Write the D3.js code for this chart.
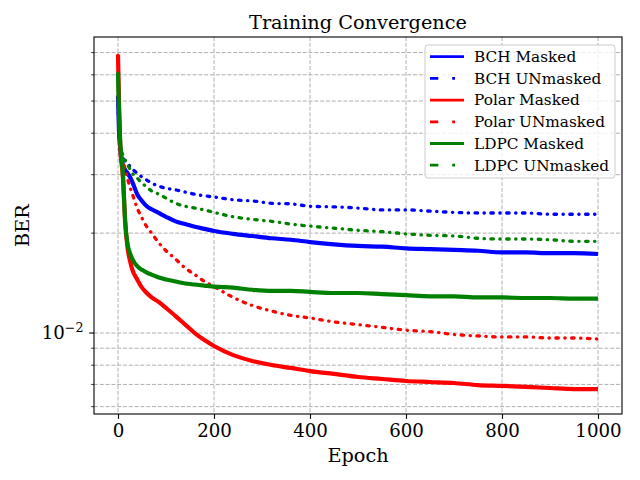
<!DOCTYPE html>
<meta charset="utf-8">
<style>
  body { margin: 0; background: #fff; }
  text { font-family: "DejaVu Serif", serif; fill: #000; }
</style>
<svg width="640" height="480"></svg>
<script src="https://d3js.org/d3.v7.min.js"></script>
<script>
const epochs = [0, 2, 5, 10, 15, 20, 25, 30, 40, 50, 60, 70, 85, 100, 120, 140, 160, 180, 200,
  240, 280, 320, 360, 400, 450, 500, 550, 600, 650, 700, 750, 800, 850, 900, 950, 1000];

const bchMasked = [0.0517, 0.0409, 0.0356, 0.0321, 0.0310, 0.0303, 0.0295, 0.0285, 0.0262, 0.0250,
  0.0241, 0.0236, 0.0230, 0.0224, 0.0217, 0.0213, 0.0209, 0.0206, 0.0203, 0.0199, 0.0196, 0.0193,
  0.0191, 0.0188, 0.0185, 0.0183, 0.0182, 0.0180, 0.0179, 0.0178, 0.0177, 0.0175, 0.0175, 0.0174,
  0.0174, 0.0173];
const bchUnmasked = [0.0517, 0.0409, 0.0361, 0.0337, 0.0330, 0.0323, 0.0318, 0.0312, 0.0303, 0.0295,
  0.0289, 0.0283, 0.0277, 0.0273, 0.0270, 0.0266, 0.0262, 0.0259, 0.0257, 0.0252, 0.0250, 0.0246,
  0.0245, 0.0241, 0.0240, 0.0238, 0.0235, 0.0235, 0.0233, 0.0231, 0.0230, 0.0230, 0.0230, 0.0228,
  0.0228, 0.0228];
const polarMasked = [0.0688, 0.0503, 0.0356, 0.0299, 0.0216, 0.0180, 0.0165, 0.0155, 0.0145, 0.0137,
  0.0132, 0.0128, 0.0124, 0.0119, 0.01125, 0.0106, 0.0100, 0.00952, 0.00914, 0.00858, 0.00824,
  0.00801, 0.00785, 0.00768, 0.00753, 0.00737, 0.00727, 0.00717, 0.00712, 0.00707, 0.00697,
  0.00693, 0.00688, 0.00683, 0.00678, 0.00678];
const polarUnmasked = [0.0688, 0.0503, 0.0368, 0.0332, 0.0310, 0.0291, 0.0275, 0.0262, 0.0238, 0.0222,
  0.0209, 0.0200, 0.0187, 0.0177, 0.0167, 0.0157, 0.0150, 0.0143, 0.0138, 0.0128, 0.0121, 0.01165,
  0.0113, 0.0111, 0.0108, 0.0106, 0.0104, 0.0102, 0.0101, 0.0099, 0.0098, 0.00973, 0.00973,
  0.00966, 0.00966, 0.00959];
const ldpcMasked = [0.0607, 0.0470, 0.0368, 0.0305, 0.0216, 0.0185, 0.0174, 0.0167, 0.0159, 0.0155,
  0.0152, 0.0150, 0.0147, 0.0145, 0.0143, 0.0141, 0.0140, 0.0139, 0.0138, 0.0137, 0.0135, 0.0134,
  0.0134, 0.0133, 0.0132, 0.0132, 0.0131, 0.0130, 0.0129, 0.0129, 0.0128, 0.0128, 0.01275, 0.01275,
  0.0127, 0.0127];
const ldpcUnmasked = [0.0607, 0.0470, 0.0368, 0.0344, 0.0332, 0.0321, 0.0312, 0.0303, 0.0293, 0.0283,
  0.0275, 0.0268, 0.0262, 0.0255, 0.0246, 0.0241, 0.0238, 0.0235, 0.0231, 0.0224, 0.0220, 0.0217,
  0.0213, 0.0210, 0.0207, 0.0204, 0.0202, 0.0199, 0.0197, 0.0196, 0.0193, 0.0192, 0.0192, 0.0191,
  0.0189, 0.0189];

const seriesNames = ["BCH Masked", "BCH UNmasked", "Polar Masked", "Polar UNmasked", "LDPC Masked", "LDPC UNmasked"];
const seriesColors = ["#0000ff", "#0000ff", "#ff0000", "#ff0000", "#008000", "#008000"];
const seriesValues = [bchMasked, bchUnmasked, polarMasked, polarUnmasked, ldpcMasked, ldpcUnmasked];

const xTicks = [0, 200, 400, 600, 800, 1000];
const yMajor = [0.01];
const yMinor = [0.006, 0.007, 0.008, 0.009, 0.02, 0.03, 0.04, 0.05, 0.06, 0.07];

const margin = {top: 37, right: 18, bottom: 66, left: 94};
const width = 640, height = 480;

const x = d3.scaleLinear([-50, 1050], [margin.left, width - margin.right]);
const y = d3.scaleLog([Math.pow(10, -2.244), Math.pow(10, -1.108)], [height - margin.bottom, margin.top]);

const svg = d3.select("svg");

svg.append("defs").append("clipPath").attr("id", "plot")
  .append("rect")
    .attr("x", margin.left).attr("y", margin.top)
    .attr("width", width - margin.left - margin.right)
    .attr("height", height - margin.top - margin.bottom);

// grid, both major and minor
const grid = svg.append("g")
    .attr("stroke", "#b0b0b0")
    .attr("stroke-width", 1)
    .attr("stroke-dasharray", "4,1.8");
grid.selectAll("line.v").data(xTicks).join("line")
    .attr("class", "v")
    .attr("x1", d => x(d)).attr("x2", d => x(d))
    .attr("y1", margin.top).attr("y2", height - margin.bottom);
grid.selectAll("line.h").data(yMajor.concat(yMinor)).join("line")
    .attr("class", "h")
    .attr("x1", margin.left).attr("x2", width - margin.right)
    .attr("y1", d => y(d)).attr("y2", d => y(d));

// curves
const line = d3.line()
    .x((d, i) => x(epochs[i]))
    .y(d => y(d))
    .curve(d3.curveMonotoneX);

svg.append("g")
    .attr("clip-path", "url(#plot)")
    .attr("fill", "none")
  .selectAll("path")
  .data(seriesValues)
  .join("path")
    .attr("stroke", (d, i) => seriesColors[i])
    .attr("stroke-width", (d, i) => i % 2 ? 3.3 : 4.2)
    .attr("stroke-linecap", (d, i) => i % 2 ? "round" : "butt")
    .attr("stroke-linejoin", "round")
    .attr("stroke-dasharray", (d, i) => i % 2 ? "2.5,6.5,0.3,6.5" : null)
    .attr("d", line);

// axes
const xAxis = d3.axisBottom(x).tickValues(xTicks).tickSize(4.9).tickPadding(4.9).tickFormat(d3.format("d"));
const gx = svg.append("g")
    .attr("transform", `translate(0,${height - margin.bottom})`)
    .call(xAxis);
gx.select(".domain").remove();
gx.selectAll(".tick line").attr("stroke", "#000").attr("stroke-width", 1.1);
gx.selectAll(".tick text")
    .attr("font-family", "DejaVu Serif")
    .attr("font-size", 18.2)
    .attr("dy", "0.72em");

const yAxis = svg.append("g");
yAxis.selectAll("line.major").data(yMajor).join("line")
    .attr("x1", margin.left - 4.9).attr("x2", margin.left)
    .attr("y1", d => y(d)).attr("y2", d => y(d))
    .attr("stroke", "#000").attr("stroke-width", 1.1);
yAxis.selectAll("line.minor").data(yMinor).join("line")
    .attr("x1", margin.left - 2.8).attr("x2", margin.left)
    .attr("y1", d => y(d)).attr("y2", d => y(d))
    .attr("stroke", "#000").attr("stroke-width", 0.8);
yAxis.selectAll("text").data(yMajor).join("text")
    .attr("x", margin.left - 10.5)
    .attr("y", d => y(d) + 6)
    .attr("text-anchor", "end")
    .attr("font-size", 18.2)
    .call(t => t.append("tspan").text("10"))
    .call(t => t.append("tspan").attr("font-size", 12.7).attr("dy", -7.5).text("\u22122"));

// frame
svg.append("rect")
    .attr("x", margin.left).attr("y", margin.top)
    .attr("width", width - margin.left - margin.right)
    .attr("height", height - margin.top - margin.bottom)
    .attr("fill", "none").attr("stroke", "#000").attr("stroke-width", 1.1);

// labels
svg.append("text")
    .attr("x", (margin.left + width - margin.right) / 2).attr("y", 28.5)
    .attr("text-anchor", "middle").attr("font-size", 19.3)
    .text("Training Convergence");
svg.append("text")
    .attr("x", (margin.left + width - margin.right) / 2).attr("y", 462)
    .attr("text-anchor", "middle").attr("font-size", 19.3)
    .text("Epoch");
svg.append("text")
    .attr("transform", `translate(29,${(margin.top + height - margin.bottom) / 2}) rotate(-90)`)
    .attr("text-anchor", "middle").attr("font-size", 19.3)
    .text("BER");

// legend
const legend = svg.append("g").attr("transform", "translate(425,45)");
legend.append("rect")
    .attr("width", 190).attr("height", 133)
    .attr("rx", 3)
    .attr("fill", "#fff").attr("fill-opacity", 0.8)
    .attr("stroke", "#cccccc").attr("stroke-width", 1);
const entry = legend.selectAll("g.entry").data(seriesNames).join("g")
    .attr("class", "entry")
    .attr("transform", (d, i) => `translate(0,${11.7 + i * 21.7})`);
entry.append("line")
    .attr("x1", 5).attr("x2", 39)
    .attr("stroke", (d, i) => seriesColors[i])
    .attr("stroke-width", 2.78)
    .attr("stroke-dasharray", (d, i) => i % 2 ? "8.3,13.9,2.8,13.9" : null);
entry.append("text")
    .attr("x", 49).attr("y", 5.3)
    .attr("font-size", 15.3)
    .text(d => d);
</script>
